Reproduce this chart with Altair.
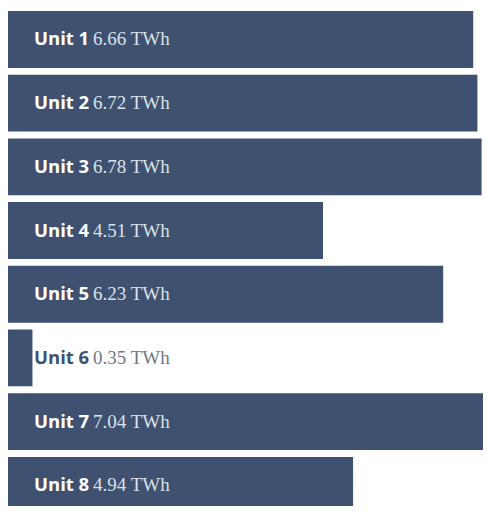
import altair as alt
import pandas as pd

units = ["Unit 1", "Unit 2", "Unit 3", "Unit 4", "Unit 5", "Unit 6", "Unit 7", "Unit 8"]
values = [6.66, 6.72, 6.78, 4.51, 6.23, 0.35, 7.04, 4.94]
value_labels = ["6.66 TWh", "6.72 TWh", "6.78 TWh", "4.51 TWh", "6.23 TWh", "0.35 TWh", "7.04 TWh", "4.94 TWh"]

df = pd.DataFrame({"unit": units, "value": values, "vlabel": value_labels,
                   "row": list(range(len(units)))})

BAR = "#3e5170"
W = 475
H = 498
STEP = 65.0
Y0 = 2.0 / STEP

yscale = alt.Scale(domain=[Y0, Y0 + H / STEP], reverse=True, clamp=True, nice=False, zero=False)
xscale = alt.Scale(domain=[0, 6.8], clamp=True, nice=False, zero=True)

base = alt.Chart(df).transform_calculate(
    top="datum.row", bottom="datum.row + 58/65", mid="datum.row + 29/65", zero="0"
)

bars = base.mark_bar(color=BAR, orient="horizontal").encode(
    x=alt.X("value:Q", axis=None, scale=xscale),
    x2="zero:Q",
    y=alt.Y("top:Q", axis=None, scale=yscale),
    y2="bottom:Q",
)

names = base.mark_text(
    align="left", baseline="middle", font="Open Sans", fontWeight="bold", fontSize=18.5
).encode(
    x=alt.value(26),
    y=alt.Y("mid:Q", axis=None, scale=yscale),
    text="unit:N",
    color=alt.condition("datum.value < 1", alt.value(BAR), alt.value("#ffffff")),
)

vals = base.mark_text(
    align="left", baseline="middle", font="Liberation Serif", fontSize=19
).encode(
    x=alt.value(85),
    y=alt.Y("mid:Q", axis=None, scale=yscale),
    text="vlabel:N",
    color=alt.condition("datum.value < 1", alt.value("#6f7886"), alt.value("#dde1e7")),
)

chart = alt.layer(bars, names, vals).properties(
    width=W, height=H, padding=0, autosize=alt.AutoSizeParams(type="none")
).configure_view(stroke=None)

chart.save("out.html", embed_options={"renderer": "svg", "actions": False})
